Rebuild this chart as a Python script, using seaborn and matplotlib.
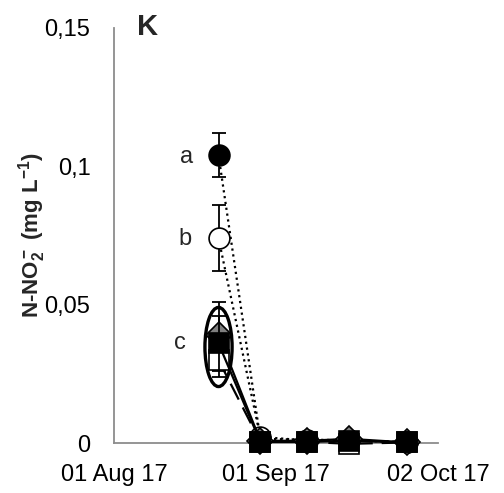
import matplotlib
matplotlib.use("Agg")
import matplotlib.pyplot as plt
import matplotlib.dates as mdates
from matplotlib.patches import Ellipse
import numpy as np
import pandas as pd
import seaborn as sns

# ---- data ----
dates = pd.to_datetime(["2017-08-21", "2017-08-29", "2017-09-07", "2017-09-15", "2017-09-26"])
series_a = [0.104, 0.0015, 0.0012, 0.0010, 0.0003]      # filled circle
series_a_err = [0.008, 0.0005, 0.0005, 0.0005, 0.0003]
series_b = [0.074, 0.0022, 0.0009, 0.0010, 0.0003]      # open circle
series_b_err = [0.012, 0.0005, 0.0005, 0.0005, 0.0003]
series_d = [0.039, 0.0008, 0.0008, 0.0015, 0.0002]      # grey diamond
series_d_err = [0.012, 0.0005, 0.0005, 0.0005, 0.0002]
series_s = [0.036, 0.0004, 0.0004, 0.0008, 0.0002]      # black square
series_s_err = [0.010, 0.0004, 0.0004, 0.0004, 0.0002]
series_w = [0.030, 0.0004, 0.0004, -0.0003, 0.0002]     # white square
series_w_err = [0.006, 0.0004, 0.0004, 0.0004, 0.0002]
ytick_vals = [0, 0.05, 0.1, 0.15]
ytick_labels = ["0", "0,05", "0,1", "0,15"]
xtick_dates = pd.to_datetime(["2017-08-01", "2017-09-01", "2017-10-02"])
xtick_labels = ["01 Aug 17", "01 Sep 17", "02 Oct 17"]

sns.set_style("white")
plt.rcParams["font.family"] = ["Liberation Sans", "DejaVu Sans"]
plt.rcParams["mathtext.fontset"] = "custom"
plt.rcParams["mathtext.rm"] = "Liberation Sans:bold"
plt.rcParams["mathtext.it"] = "Liberation Sans:bold"
plt.rcParams["mathtext.bf"] = "Liberation Sans:bold"

fig = plt.figure(figsize=(5.04, 4.93), dpi=100)
ax = fig.add_axes([114 / 504, 1 - 443 / 493, (438 - 114) / 504, (443 - 28) / 493])

ms = 15
specs = [
    (series_a, series_a_err, "o", "black", ":", "black"),
    (series_b, series_b_err, "o", "white", ":", "black"),
    (series_d, series_d_err, "D", "#7f7f7f", "-", "black"),
    (series_w, series_w_err, "s", "white", (0, (8, 4)), "black"),
    (series_s, series_s_err, "s", "black", "-", "black"),
]
for i, (vals, errs, mk, fc, ls, lc) in enumerate(specs):
    ax.errorbar(dates, vals, yerr=errs, fmt="none", ecolor="black",
                elinewidth=1.3, capsize=5, capthick=1.3, zorder=2 + i, clip_on=False)
    sns.lineplot(x=dates, y=vals, ax=ax, marker=mk,
                 markersize=ms if mk != "D" else ms * 0.85,
                 markerfacecolor=fc, markeredgecolor="black", markeredgewidth=1.2,
                 color=lc, linestyle=ls, linewidth=1.6, zorder=3 + i, clip_on=False,
                 legend=False)

# ellipse around group c
ell = Ellipse((mdates.date2num(pd.Timestamp("2017-08-21")), 0.0347), width=5.2, height=0.0286,
              fill=False, edgecolor="black", linewidth=2.4, zorder=10)
ax.add_patch(ell)

ax.text(mdates.date2num(pd.Timestamp("2017-08-14 20:00")), 0.1035, "a", fontsize=17,
        ha="center", va="center")
ax.text(mdates.date2num(pd.Timestamp("2017-08-14 15:00")), 0.0737, "b", fontsize=17,
        ha="center", va="center")
ax.text(mdates.date2num(pd.Timestamp("2017-08-13 15:00")), 0.0361, "c", fontsize=17,
        ha="center", va="center")

ax.set_xlim(xtick_dates[0], xtick_dates[-1])
ax.set_ylim(0, 0.15)
ax.set_xticks(xtick_dates)
ax.set_xticklabels(xtick_labels, fontsize=17)
ax.set_yticks(ytick_vals)
ax.set_yticklabels(ytick_labels, fontsize=17)
ax.set_xlabel("")
ax.set_ylabel(r"N-NO$_2^-$ (mg L$^{-1}$)", fontsize=16, fontweight="bold")
ax.yaxis.set_label_coords(-0.205, 0.5)

for side in ["top", "right"]:
    ax.spines[side].set_visible(False)
for side in ["left", "bottom"]:
    ax.spines[side].set_color("#8c8c8c")
    ax.spines[side].set_linewidth(1.3)
ax.tick_params(axis="both", direction="out", length=5, width=1.3, color="#8c8c8c",
               labelcolor="black", pad=6)
ax.tick_params(axis="y", pad=12)
ax.tick_params(axis="x", pad=10)

fig.text(137 / 504, 1 - 35 / 493, "K", fontsize=21, fontweight="bold", ha="left", va="baseline")

fig.savefig("out.png", dpi=100)
